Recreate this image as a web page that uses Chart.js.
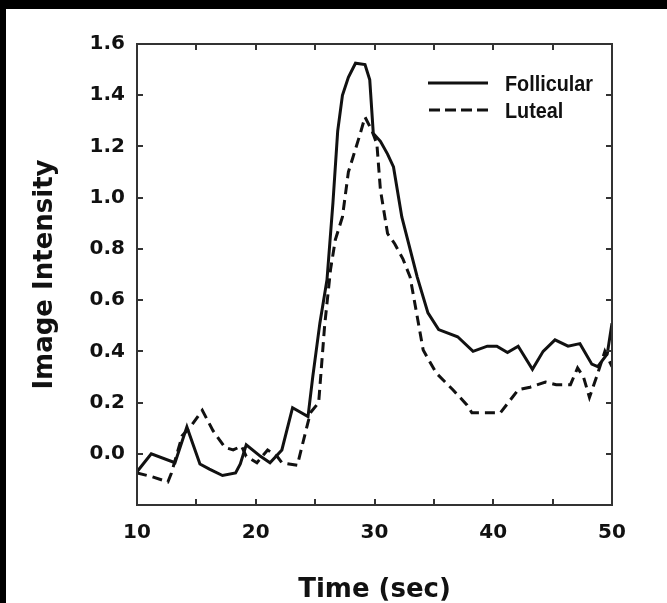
<!DOCTYPE html>
<html>
<head>
<meta charset="utf-8">
<script src="https://cdn.jsdelivr.net/npm/chart.js@4.4.1/dist/chart.umd.min.js"></script>
<style>
    html, body { margin: 0; padding: 0; background: #fff; }
    #wrap { width: 667px; height: 603px; position: relative; }
</style>
</head>
<body>
<div id="wrap"><canvas id="chart"></canvas></div>
<script>
// Data
const follicularTime = [10, 11.2, 13.2, 14.2, 15.3, 16.1, 17.2, 18.3, 18.7, 19.2, 20.4, 21.2, 22.2, 23.1, 24.4, 24.8, 25.4, 26.0, 26.5, 26.9, 27.3, 27.8, 28.4, 29.2, 29.6, 29.9, 30.5, 31.1, 31.6, 32.3, 33.6, 34.5, 35.4, 37.0, 38.3, 39.5, 40.3, 41.2, 42.1, 43.3, 44.2, 45.2, 46.3, 47.3, 48.3, 48.8, 49.6, 50];
const follicularValue = [-0.07, 0.0, -0.035, 0.105, -0.04, -0.06, -0.085, -0.075, -0.04, 0.035, -0.01, -0.035, 0.015, 0.18, 0.145, 0.30, 0.51, 0.68, 0.98, 1.26, 1.40, 1.47, 1.525, 1.52, 1.46, 1.25, 1.22, 1.17, 1.12, 0.925, 0.69, 0.55, 0.485, 0.457, 0.40, 0.42, 0.42, 0.395, 0.42, 0.33, 0.40, 0.445, 0.42, 0.43, 0.35, 0.34, 0.39, 0.51];

const lutealTime = [10, 11.3, 12.6, 12.9, 13.8, 14.5, 15.5, 16.4, 17.4, 18.1, 18.8, 19.2, 20.1, 21.0, 21.8, 22.2, 23.5, 23.9, 24.6, 25.3, 25.8, 26.3, 26.7, 27.3, 27.8, 28.2, 28.8, 29.2, 29.8, 30.2, 30.5, 31.1, 31.7, 32.4, 33.0, 33.6, 34.1, 35.2, 36.6, 37.8, 38.2, 40.6, 42.1, 43.1, 44.4, 45.3, 46.5, 47.1, 47.6, 48.1, 48.7, 49.4, 50];
const lutealValue = [-0.075, -0.09, -0.11, -0.075, 0.07, 0.105, 0.17, 0.09, 0.025, 0.015, 0.03, -0.01, -0.035, 0.015, -0.01, -0.035, -0.045, 0.03, 0.16, 0.20, 0.50, 0.72, 0.835, 0.925, 1.10, 1.16, 1.25, 1.315, 1.26, 1.21, 1.03, 0.86, 0.82, 0.76, 0.69, 0.535, 0.405, 0.315, 0.25, 0.19, 0.16, 0.16, 0.25, 0.26, 0.28, 0.27, 0.27, 0.335, 0.30, 0.22, 0.30, 0.40, 0.34];

const seriesNames = ['Follicular', 'Luteal'];
const xTickValues = [10, 20, 30, 40, 50];
const yTickValues = [0.0, 0.2, 0.4, 0.6, 0.8, 1.0, 1.2, 1.4, 1.6];

const ink = '#111';
const boldFont = "'DejaVu Sans', sans-serif";

function toPoints(xs, ys) {
    return xs.map((x, i) => ({ x: x, y: ys[i] }));
}

// Frame, inward ticks, black border and legend
const framePlugin = {
    id: 'framePlugin',
    beforeDraw(chart) {
        const ctx = chart.ctx;
        ctx.save();
        ctx.fillStyle = '#fff';
        ctx.fillRect(0, 0, chart.width, chart.height);
        ctx.fillStyle = '#000';
        ctx.fillRect(0, 0, chart.width, 9);
        ctx.fillRect(0, 0, 6, chart.height);
        ctx.restore();
    },
    afterDatasetsDraw(chart) {
        const ctx = chart.ctx;
        const a = chart.chartArea;
        const xs = chart.scales.x;
        const ys = chart.scales.y;
        ctx.save();
        ctx.strokeStyle = '#333';
        ctx.lineWidth = 2;
        ctx.strokeRect(a.left, a.top, a.right - a.left, a.bottom - a.top);

        const len = 6;
        ctx.beginPath();
        for (let v = 15; v < 50; v += 5) {
            const px = Math.round(xs.getPixelForValue(v));
            ctx.moveTo(px, a.bottom); ctx.lineTo(px, a.bottom - len);
            ctx.moveTo(px, a.top); ctx.lineTo(px, a.top + len);
        }
        for (let v = 0; v < 1.5; v += 0.2) {
            const py = Math.round(ys.getPixelForValue(v));
            ctx.moveTo(a.left, py); ctx.lineTo(a.left + len, py);
            ctx.moveTo(a.right, py); ctx.lineTo(a.right - len, py);
        }
        ctx.stroke();

        // legend
        ctx.strokeStyle = ink;
        ctx.lineWidth = 3;
        ctx.beginPath();
        ctx.moveTo(428, 83); ctx.lineTo(488, 83);
        ctx.stroke();
        ctx.setLineDash([11, 5]);
        ctx.beginPath();
        ctx.moveTo(429, 110); ctx.lineTo(488, 110);
        ctx.stroke();
        ctx.setLineDash([]);
        ctx.fillStyle = ink;
        ctx.font = "bold 22px 'Liberation Sans', Arial, sans-serif";
        ctx.textBaseline = 'middle';
        ctx.textAlign = 'left';
        // condensed look of the original legend lettering
        ctx.translate(505, 0);
        ctx.scale(0.9, 1);
        ctx.fillText(seriesNames[0], 0, 85);
        ctx.fillText(seriesNames[1], 0, 112);
        ctx.restore();
    }
};

const chart = new Chart(document.getElementById('chart'), {
    type: 'line',
    data: {
        datasets: [{
            label: seriesNames[0],
            data: toPoints(follicularTime, follicularValue),
            borderColor: ink,
            borderWidth: 3,
            pointRadius: 0,
            tension: 0,
            fill: false
        }, {
            label: seriesNames[1],
            data: toPoints(lutealTime, lutealValue),
            borderColor: ink,
            borderWidth: 3,
            borderDash: [10, 6],
            pointRadius: 0,
            tension: 0,
            fill: false
        }]
    },
    options: {
        responsive: true,
        maintainAspectRatio: false,
        animation: false,
        layout: { padding: { left: 0, top: 44, right: 55, bottom: 0 } },
        plugins: {
            legend: { display: false },
            tooltip: { enabled: false }
        },
        scales: {
            x: {
                type: 'linear',
                min: 10,
                max: 50,
                afterFit: (s) => { s.height = 98; },
                afterBuildTicks: (s) => { s.ticks = xTickValues.map(v => ({ value: v })); },
                grid: { display: false, drawTicks: false },
                border: { display: false },
                ticks: {
                    color: ink,
                    padding: 16,
                    maxRotation: 0,
                    autoSkip: false,
                    font: { family: boldFont, size: 20, weight: 'bold' },
                    callback: (v) => String(v)
                },
                title: {
                    display: true,
                    text: 'Time (sec)',
                    color: ink,
                    padding: { top: 0, bottom: 0 },
                    font: { family: boldFont, size: 26, weight: 'bold', lineHeight: 1 }
                }
            },
            y: {
                min: -0.2,
                max: 1.6,
                afterFit: (s) => { s.width = 137; },
                afterBuildTicks: (s) => { s.ticks = yTickValues.map(v => ({ value: v })); },
                grid: { display: false, drawTicks: false },
                border: { display: false },
                ticks: {
                    color: ink,
                    padding: 12,
                    autoSkip: false,
                    font: { family: boldFont, size: 20, weight: 'bold' },
                    callback: (v) => Number(v).toFixed(1)
                },
                title: {
                    display: true,
                    text: 'Image Intensity',
                    color: ink,
                    padding: { top: 30, bottom: 0 },
                    font: { family: boldFont, size: 26, weight: 'bold' }
                }
            }
        }
    },
    plugins: [framePlugin]
});
</script>
</body>
</html>
